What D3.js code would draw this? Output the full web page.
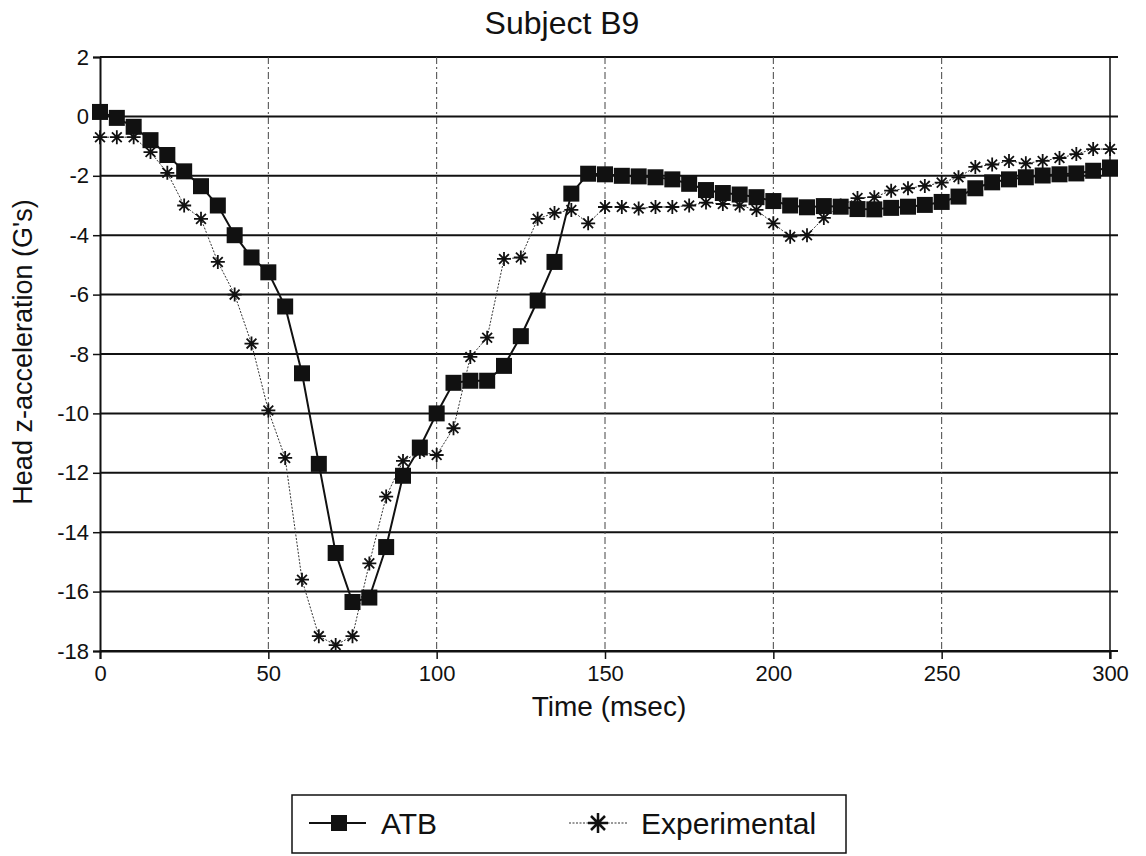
<!DOCTYPE html>
<html lang="en">

<head>
  <meta charset="UTF-8">
  <title>Subject B9</title>
  <script src="https://d3js.org/d3.v7.min.js"></script>
  <style>
    body {
      margin: 0;
      background: #fff;
    }

    svg text {
      font-family: "Liberation Sans", Arial, Helvetica, sans-serif;
      fill: #111;
    }
  </style>
</head>

<body>
  <script>
    // time in msec, every 5 ms
    var times = d3.range(0, 301, 5);
    var atb = [0.15, -0.05, -0.35, -0.8, -1.3, -1.85, -2.35, -3.0, -4.0, -4.75,
      -5.25, -6.4, -8.65, -11.7, -14.7, -16.35, -16.2, -14.5, -12.1, -11.15,
      -10.0, -8.97, -8.9, -8.9, -8.4, -7.4, -6.2, -4.9, -2.6, -1.93,
      -1.95, -2.0, -2.02, -2.05, -2.12, -2.27, -2.48, -2.58, -2.63, -2.72,
      -2.85, -3.0, -3.06, -3.02, -3.04, -3.12, -3.13, -3.08, -3.04, -2.98,
      -2.88, -2.7, -2.42, -2.22, -2.12, -2.05, -1.99, -1.95, -1.92, -1.83, -1.72];
    var experimental = [-0.7, -0.7, -0.7, -1.2, -1.9, -3.0, -3.45, -4.9, -6.0, -7.65,
      -9.9, -11.5, -15.6, -17.5, -17.8, -17.5, -15.05, -12.8, -11.6, -11.3,
      -11.4, -10.5, -8.1, -7.45, -4.8, -4.75, -3.45, -3.25, -3.15, -3.6,
      -3.05, -3.05, -3.1, -3.05, -3.05, -3.0, -2.9, -2.95, -3.0, -3.15,
      -3.6, -4.05, -4.0, -3.42, -3.0, -2.75, -2.72, -2.5, -2.42, -2.34,
      -2.23, -2.05, -1.7, -1.62, -1.5, -1.58, -1.5, -1.4, -1.27, -1.1, -1.1];
    var xTicks = [0, 50, 100, 150, 200, 250, 300];
    var yTicks = [2, 0, -2, -4, -6, -8, -10, -12, -14, -16, -18];

    var width = 1146;
    var height = 856;
    var margin = { top: 57, left: 100, right: 36, bottom: 205 };

    var svg = d3.select('body')
      .append('svg')
      .attr('width', width)
      .attr('height', height);

    svg.append('rect')
      .attr('width', width)
      .attr('height', height)
      .attr('fill', '#fff');

    var xScale = d3.scaleLinear()
      .domain([0, 300])
      .range([margin.left, width - margin.right]);
    var yScale = d3.scaleLinear()
      .domain([2, -18])
      .range([margin.top, height - margin.bottom]);

    var x0 = xScale(0), x1 = xScale(300);
    var y0 = yScale(2), y1 = yScale(-18);

    // horizontal grid (solid, runs a bit past the right edge)
    svg.append('g')
      .selectAll('line')
      .data(yTicks)
      .enter()
      .append('line')
      .attr('x1', x0)
      .attr('x2', x1 + 8)
      .attr('y1', function (d) { return yScale(d); })
      .attr('y2', function (d) { return yScale(d); })
      .attr('stroke', '#111')
      .attr('stroke-width', 2);

    // vertical grid (dashed)
    svg.append('g')
      .selectAll('line')
      .data(xTicks.slice(1, -1))
      .enter()
      .append('line')
      .attr('x1', function (d) { return xScale(d); })
      .attr('x2', function (d) { return xScale(d); })
      .attr('y1', y0)
      .attr('y2', y1)
      .attr('stroke', '#444')
      .attr('stroke-width', 1)
      .attr('stroke-dasharray', '7,3,2,3');

    // right border
    svg.append('line')
      .attr('x1', x1).attr('x2', x1)
      .attr('y1', y0).attr('y2', y1 + 8)
      .attr('stroke', '#111')
      .attr('stroke-width', 1.5);

    // axes (plain hyphen for negatives, like the original)
    var yAxis = d3.axisLeft(yScale)
      .tickValues(yTicks)
      .tickFormat(function (d) { return String(d); })
      .tickSize(7)
      .tickPadding(4);
    var gy = svg.append('g')
      .attr('transform', 'translate(' + x0 + ',0)')
      .call(yAxis);

    var xAxis = d3.axisBottom(xScale)
      .tickValues(xTicks)
      .tickFormat(function (d) { return String(d); })
      .tickSize(8)
      .tickPadding(6);
    var gx = svg.append('g')
      .attr('transform', 'translate(0,' + y1 + ')')
      .call(xAxis);

    [gx, gy].forEach(function (g) {
      g.select('.domain').attr('stroke', '#111').attr('stroke-width', 2);
      g.selectAll('.tick line').attr('stroke', '#111').attr('stroke-width', 1.5);
      g.selectAll('.tick text')
        .attr('font-size', '22px')
        .attr('font-family', '"Liberation Sans", Arial, sans-serif')
        .attr('fill', '#111');
    });

    // series lines
    var line = d3.line()
      .x(function (d, i) { return xScale(times[i]); })
      .y(function (d) { return yScale(d); });

    svg.append('path')
      .datum(experimental)
      .attr('d', line)
      .attr('fill', 'none')
      .attr('stroke', '#333')
      .attr('stroke-width', 1)
      .attr('stroke-dasharray', '2,1.5');

    svg.append('path')
      .datum(atb)
      .attr('d', line)
      .attr('fill', 'none')
      .attr('stroke', '#111')
      .attr('stroke-width', 2);

    // asterisk marker path
    function star(r) {
      var a = r * 0.7;
      return 'M' + (-r) + ',0L' + r + ',0' +
        'M0,' + (-r) + 'L0,' + r +
        'M' + (-a) + ',' + (-a) + 'L' + a + ',' + a +
        'M' + (-a) + ',' + a + 'L' + a + ',' + (-a);
    }

    svg.append('g')
      .selectAll('path')
      .data(experimental)
      .enter()
      .append('path')
      .attr('transform', function (d, i) {
        return 'translate(' + xScale(times[i]) + ',' + yScale(d) + ')';
      })
      .attr('d', star(7))
      .attr('stroke', '#111')
      .attr('stroke-width', 1.8)
      .attr('fill', 'none');

    var sq = 16;
    svg.append('g')
      .selectAll('rect')
      .data(atb)
      .enter()
      .append('rect')
      .attr('x', function (d, i) { return xScale(times[i]) - sq / 2; })
      .attr('y', function (d) { return yScale(d) - sq / 2; })
      .attr('width', sq)
      .attr('height', sq)
      .attr('fill', '#111');

    // titles
    svg.append('text')
      .attr('x', 562)
      .attr('y', 34)
      .attr('text-anchor', 'middle')
      .attr('font-size', '32px')
      .text('Subject B9');

    svg.append('text')
      .attr('x', 609)
      .attr('y', 716)
      .attr('text-anchor', 'middle')
      .attr('font-size', '28px')
      .text('Time (msec)');

    svg.append('text')
      .attr('transform', 'translate(32,352) rotate(-90)')
      .attr('text-anchor', 'middle')
      .attr('font-size', '27px')
      .text("Head z-acceleration (G's)");

    // legend
    var legend = svg.append('g');
    legend.append('rect')
      .attr('x', 292)
      .attr('y', 795)
      .attr('width', 554)
      .attr('height', 58)
      .attr('fill', '#fff')
      .attr('stroke', '#111')
      .attr('stroke-width', 1.5);

    var ly = 823;
    legend.append('line')
      .attr('x1', 309).attr('x2', 366)
      .attr('y1', ly).attr('y2', ly)
      .attr('stroke', '#111').attr('stroke-width', 2);
    legend.append('rect')
      .attr('x', 339 - sq / 2).attr('y', ly - sq / 2)
      .attr('width', sq).attr('height', sq)
      .attr('fill', '#111');
    legend.append('text')
      .attr('x', 381).attr('y', ly + 11)
      .attr('font-size', '30px')
      .text('ATB');

    legend.append('line')
      .attr('x1', 569).attr('x2', 628)
      .attr('y1', ly).attr('y2', ly)
      .attr('stroke', '#333').attr('stroke-width', 1)
      .attr('stroke-dasharray', '2,1.5');
    legend.append('path')
      .attr('transform', 'translate(598,' + ly + ')')
      .attr('d', star(10))
      .attr('stroke', '#111')
      .attr('stroke-width', 2.5)
      .attr('fill', 'none');
    legend.append('text')
      .attr('x', 641).attr('y', ly + 11)
      .attr('font-size', '30px')
      .text('Experimental');
  </script>
</body>

</html>
